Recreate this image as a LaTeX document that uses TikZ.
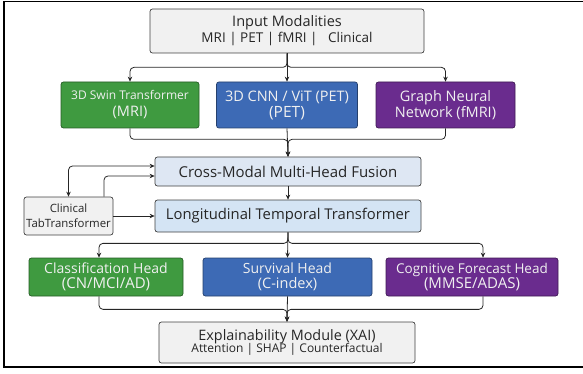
\documentclass[tikz,border=0pt]{standalone}
\usepackage{fontspec}
\setmainfont{Open Sans}
\usetikzlibrary{arrows.meta,calc}

\definecolor{boxgreen}{HTML}{3F9A40}
\definecolor{boxblue}{HTML}{3D6AB5}
\definecolor{boxpurple}{HTML}{6A2C8E}
\definecolor{boxgray}{HTML}{F1F1F1}
\definecolor{fusblue}{HTML}{DEE7F3}
\definecolor{lonblue}{HTML}{D4E4F4}

\begin{document}
\begin{tikzpicture}[x=1pt, y=-1pt,
    box/.style={draw=black!75, line width=0.7pt, rounded corners=2.5pt,
      align=center, inner sep=0pt, text=black!85},
    colbox/.style={box, fill=#1, draw=#1!60!black, text=white!94!black},
    arr/.style={-{Stealth[length=5pt,width=4.5pt]}, line width=0.8pt,
      draw=black!85, rounded corners=4pt},
    big/.style={font=\fontsize{14.5}{16}\selectfont},
    head/.style={font=\fontsize{14}{15}\selectfont}]

\useasboundingbox (0,0) rectangle (583,374);
\draw[line width=1.8pt] (4,1.5) rectangle (600,367);

% inputs
\node[box, fill=boxgray, minimum width=274, minimum height=44] (inp) at (287,31)
  {{\fontsize{14.5}{17}\selectfont Input Modalities}\\[1pt]
   {\fontsize{13.5}{16}\selectfont MRI | PET | fMRI |\ \ \ Clinical}};

\node[colbox=boxgreen, font=\fontsize{12}{17}\selectfont, minimum width=138,
  minimum height=46] (swin) at (130,105)
  {3D Swin Transformer\\{\fontsize{14.5}{17}\selectfont (MRI)}};
\node[colbox=boxblue, big, minimum width=141, minimum height=46] (cnn) at (287,105)
  {3D CNN / ViT (PET)\\{\fontsize{15.5}{16}\selectfont (PET)}};
\node[colbox=boxpurple, big, minimum width=139, minimum height=46] (gnn) at (445.5,105)
  {Graph Neural\\Network (fMRI)};

% fusion part
\node[box, fill=fusblue, font=\fontsize{15}{17}\selectfont, minimum width=266,
  minimum height=29] (fus) at (288,171.5) {Cross-Modal Multi-Head Fusion};
\node[box, fill=lonblue, font=\fontsize{14.8}{17}\selectfont, minimum width=266,
  minimum height=32] (lon) at (288,216) {Longitudinal Temporal Transformer};
\node[box, fill=boxgray, font=\fontsize{11.4}{15}\selectfont, minimum width=89,
  minimum height=38] (clin) at (68.5,216) {Clinical\\TabTransformer};

% heads
\node[colbox=boxgreen, head, minimum width=154, minimum height=38] (cls) at (106,277)
  {Classification Head\\{\fontsize{15}{15}\selectfont (CN/MCI/AD)}};
\node[colbox=boxblue, head, minimum width=169, minimum height=38] (surv) at (287.5,277)
  {Survival Head\\{\fontsize{14.5}{15}\selectfont (C-index)}};
\node[colbox=boxpurple, font=\fontsize{13.5}{15}\selectfont, minimum width=172,
  minimum height=38] (cog) at (472,277)
  {Cognitive Forecast Head\\{\fontsize{15}{15}\selectfont (MMSE/ADAS)}};

\node[box, fill=boxgray, minimum width=256, minimum height=41] (xai) at (287,342.5)
  {{\fontsize{14.4}{15}\selectfont Explainability Module (XAI)}\\[-1pt]
   {\fontsize{12}{14}\selectfont Attention | SHAP | Counterfactual}};

\draw[arr] (inp.south) -- ++(0,14) -| (swin.north);
\draw[arr] (inp.south) -- ++(0,14) -| (gnn.north);
\draw[arr] (inp.south) -- (cnn.north);

\draw[arr] (swin.south) -- ++(0,11) -| (fus.north);
\draw[arr] (gnn.south) -- ++(0,11) -| (fus.north);
\draw[arr] (cnn.south) -- (fus.north);

\draw[arr] (fus) -- (lon);
\draw[arr, {Stealth[length=5pt,width=4.5pt]}-{Stealth[length=5pt,width=4.5pt]}]
  (clin.north) |- ($(fus.west)+(0,-5.5)$);
\draw[arr] ($(clin.north)+(35.5,0)$) |- ($(fus.west)+(0,4.5)$);
\draw[arr] (clin) -- (lon);

\draw[arr] (lon.south) -- ++(0,11) -| ($(cls.north)+(-7,0)$);
\draw[arr] (lon.south) -- ++(0,11) -| ($(cog.north)+(11,0)$);
\draw[arr] (lon.south) -- (surv.north);

\draw[arr] ($(cls.south)+(-7,0)$) -- ++(0,13) -| (xai.north);
\draw[arr] ($(cog.south)+(11,0)$) -- ++(0,13) -| (xai.north);
\draw[arr] (surv.south) -- (xai.north);

\end{tikzpicture}
\end{document}
